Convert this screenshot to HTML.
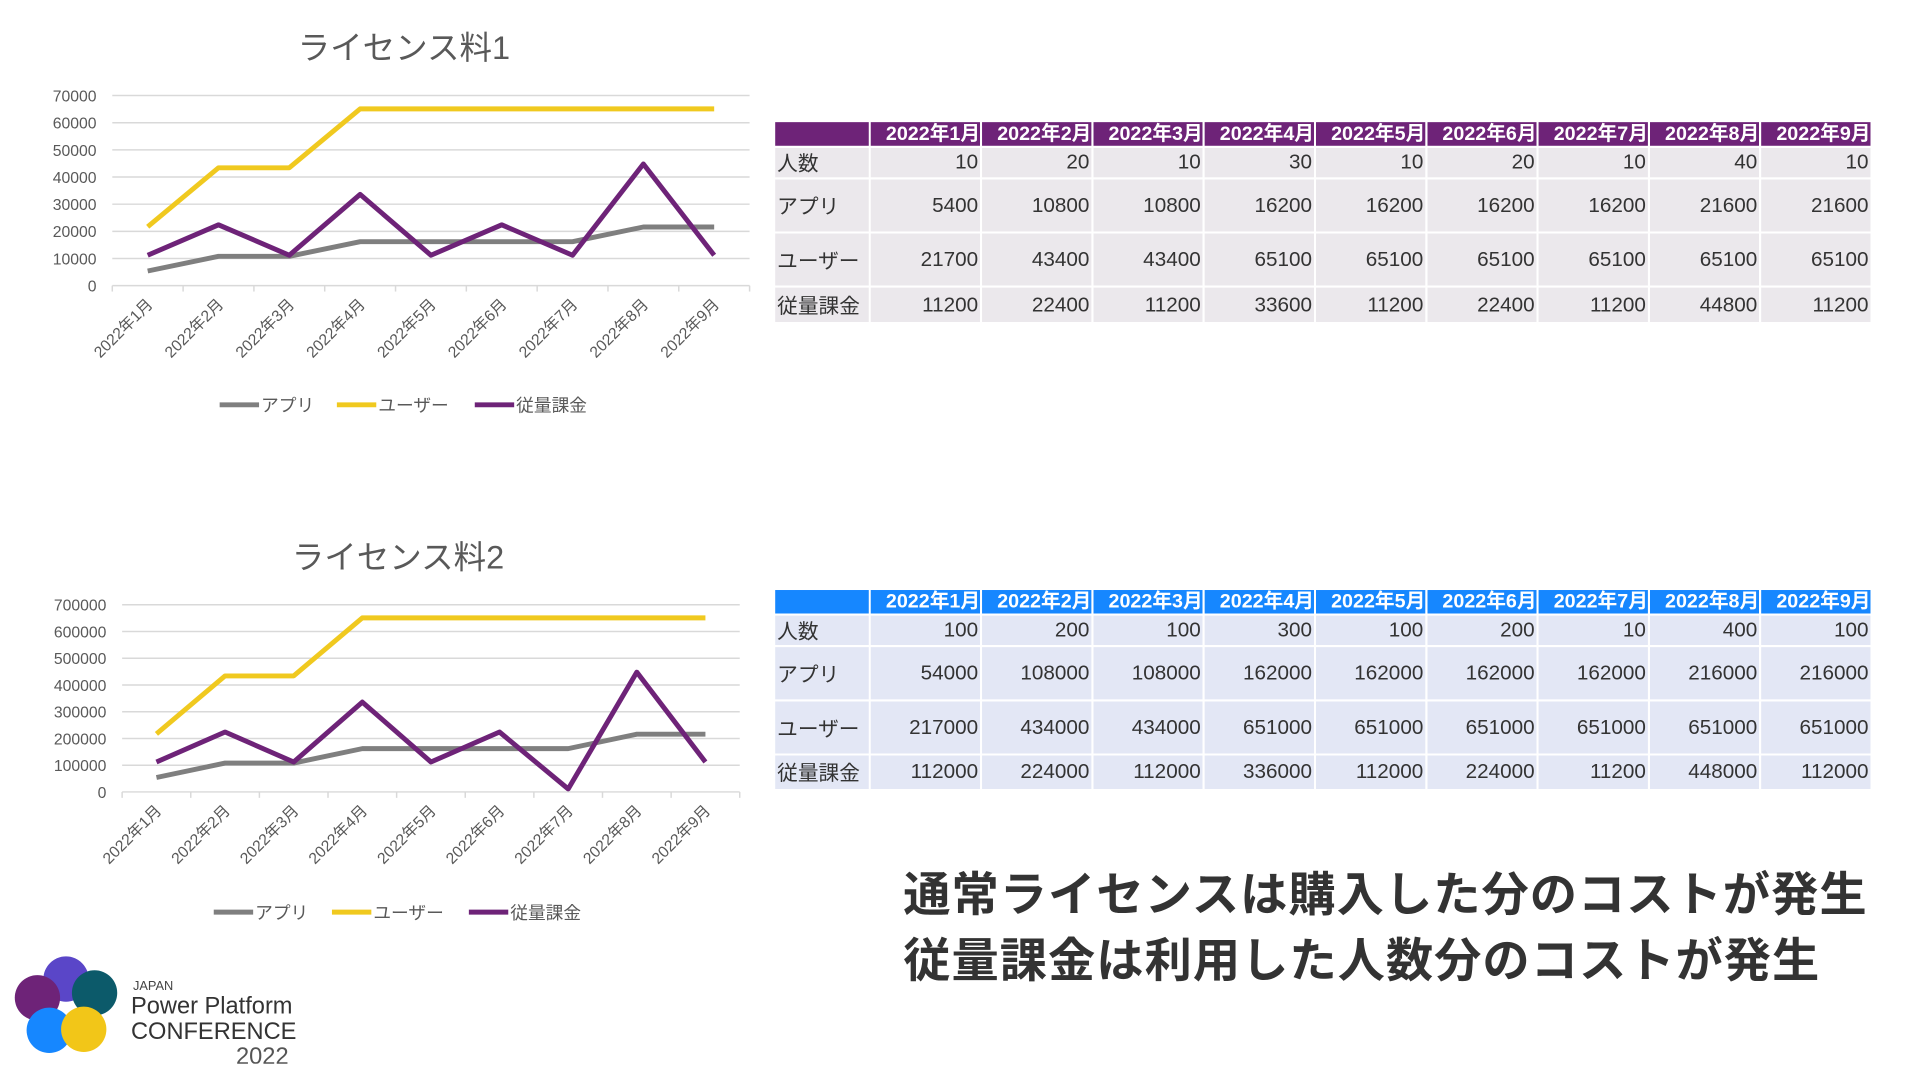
<!DOCTYPE html>
<html><head><meta charset="utf-8">
<style>
body{margin:0;width:1920px;height:1080px;background:#fff;overflow:hidden;position:relative;font-family:"Liberation Sans","Noto Sans CJK JP",sans-serif;}
#wrap{position:absolute;left:0;top:0;width:1920px;height:1080px;transform:scale(0.985);transform-origin:0 0}
svg{position:absolute;left:0;top:0}
table{position:absolute;border-collapse:collapse;font-family:"Liberation Sans","Noto Sans CJK JP",sans-serif;font-size:21px;color:#333;table-layout:fixed}
td,th{border:2px solid #fff;padding:0 2px;text-align:right;white-space:nowrap;overflow:hidden}
th{color:#fff;font-weight:bold;font-size:20px;height:22px;line-height:22px;padding:0}
td.l{text-align:left}
#t1{left:785px;top:122px;width:1116px}
#t1 th{background:#6e2378}
#t1 td{background:#ebe8ec}
#t2{left:785px;top:597px;width:1116px}
#t2 th{background:#1687ff}
#t2 td{background:#e3e7f5}
.msg{position:absolute;left:917px;font-size:48px;font-weight:bold;color:#333;letter-spacing:1px;white-space:nowrap}
</style></head><body>
<div id="wrap">
<svg id="c1" width="1920" height="1080"></svg>

<table id="t1">
<colgroup><col style="width:97px"><col span="9"></colgroup>
<tr style="height:26px"><th></th><th>2022年1月</th><th>2022年2月</th><th>2022年3月</th><th>2022年4月</th><th>2022年5月</th><th>2022年6月</th><th>2022年7月</th><th>2022年8月</th><th>2022年9月</th></tr>
<tr style="height:30px"><td class="l">人数</td><td>10</td><td>20</td><td>10</td><td>30</td><td>10</td><td>20</td><td>10</td><td>40</td><td>10</td></tr>
<tr style="height:55px"><td class="l">アプリ</td><td>5400</td><td>10800</td><td>10800</td><td>16200</td><td>16200</td><td>16200</td><td>16200</td><td>21600</td><td>21600</td></tr>
<tr style="height:55px"><td class="l">ユーザー</td><td>21700</td><td>43400</td><td>43400</td><td>65100</td><td>65100</td><td>65100</td><td>65100</td><td>65100</td><td>65100</td></tr>
<tr style="height:37px"><td class="l">従量課金</td><td>11200</td><td>22400</td><td>11200</td><td>33600</td><td>11200</td><td>22400</td><td>11200</td><td>44800</td><td>11200</td></tr>
</table>

<table id="t2">
<colgroup><col style="width:97px"><col span="9"></colgroup>
<tr style="height:26px"><th></th><th>2022年1月</th><th>2022年2月</th><th>2022年3月</th><th>2022年4月</th><th>2022年5月</th><th>2022年6月</th><th>2022年7月</th><th>2022年8月</th><th>2022年9月</th></tr>
<tr style="height:30px"><td class="l">人数</td><td>100</td><td>200</td><td>100</td><td>300</td><td>100</td><td>200</td><td>10</td><td>400</td><td>100</td></tr>
<tr style="height:55px"><td class="l">アプリ</td><td>54000</td><td>108000</td><td>108000</td><td>162000</td><td>162000</td><td>162000</td><td>162000</td><td>216000</td><td>216000</td></tr>
<tr style="height:55px"><td class="l">ユーザー</td><td>217000</td><td>434000</td><td>434000</td><td>651000</td><td>651000</td><td>651000</td><td>651000</td><td>651000</td><td>651000</td></tr>
<tr style="height:36px"><td class="l">従量課金</td><td>112000</td><td>224000</td><td>112000</td><td>336000</td><td>112000</td><td>224000</td><td>11200</td><td>448000</td><td>112000</td></tr>
</table>

<div class="msg" style="top:869px">通常ライセンスは購入した分のコストが発生</div>
<div class="msg" style="top:936px">従量課金は利用した人数分のコストが発生</div>

<svg width="320" height="140" style="left:0;top:940px">
<circle cx="67" cy="54" r="23" fill="#5a46c8"/>
<circle cx="96" cy="68" r="23" fill="#0c5a6a"/>
<circle cx="38" cy="73" r="23" fill="#6e2378"/>
<circle cx="50" cy="106" r="23" fill="#1687ff"/>
<circle cx="85" cy="105" r="23" fill="#f2c618"/>
<text x="135" y="65" font-size="13" fill="#444" font-family="Liberation Sans, sans-serif">JAPAN</text>
<text x="133" y="89" font-size="24" fill="#333" font-family="Liberation Sans, sans-serif">Power Platform</text>
<text x="133" y="115" font-size="24" fill="#333" font-family="Liberation Sans, sans-serif">CONFERENCE</text>
<text x="293" y="140" font-size="24" fill="#555" text-anchor="end" font-family="Liberation Sans, sans-serif">2022</text>
</svg>
</div>

<script>
const categories=["2022年1月","2022年2月","2022年3月","2022年4月","2022年5月","2022年6月","2022年7月","2022年8月","2022年9月"];
const seriesNames=["アプリ","ユーザー","従量課金"];
const app1=[5400,10800,10800,16200,16200,16200,16200,21600,21600];
const user1=[21700,43400,43400,65100,65100,65100,65100,65100,65100];
const meter1=[11200,22400,11200,33600,11200,22400,11200,44800,11200];
const ticks1=[0,10000,20000,30000,40000,50000,60000,70000];
const app2=[54000,108000,108000,162000,162000,162000,162000,216000,216000];
const user2=[217000,434000,434000,651000,651000,651000,651000,651000,651000];
const meter2=[112000,224000,112000,336000,112000,224000,11200,448000,112000];
const ticks2=[0,100000,200000,300000,400000,500000,600000,700000];
const colors=["#7f7f7f","#f0c91f","#6e2378"];
const NS="http://www.w3.org/2000/svg";
const svg=document.getElementById('c1');
function mk(tag,attrs,parent){const e=document.createElementNS(NS,tag);for(const k in attrs)e.setAttribute(k,attrs[k]);parent.appendChild(e);return e;}
function chart(cfg){
  const g=mk('g',{},svg);
  
  
  const max=cfg.ticks[cfg.ticks.length-1];
  const y=v=>cfg.y0-(v/max)*(cfg.y0-cfg.y1);
  const bw=(cfg.x1-cfg.x0)/categories.length;
  const x=i=>cfg.x0+bw*(i+0.5);
  const t=mk('text',{x:cfg.tx,y:cfg.ty,'font-size':33,fill:'#595959','text-anchor':'middle'},g);t.textContent=cfg.title;
  
  
  cfg.ticks.forEach(v=>{
    mk('line',{x1:cfg.x0,x2:cfg.x1,y1:y(v),y2:y(v),stroke:'#d9d9d9','stroke-width':1.5},g);
    const l=mk('text',{x:cfg.x0-16,y:y(v)+6,'font-size':16,fill:'#595959','text-anchor':'end'},g);l.textContent=v;
    
    
  });
  for(let i=0;i<=categories.length;i++)mk('line',{x1:cfg.x0+bw*i,x2:cfg.x0+bw*i,y1:cfg.y0,y2:cfg.y0+6,stroke:'#d9d9d9','stroke-width':1.5},g);
  categories.forEach((c,i)=>{
    const px=x(i)+6,py=cfg.y0+20;
    const l=mk('text',{x:px,y:py,'font-size':16,fill:'#595959','text-anchor':'end',transform:`rotate(-45 ${px} ${py})`},g);l.textContent=c;
    
    
  });
  cfg.series.forEach((s,si)=>{
    const p=mk('polyline',{points:s.map((v,i)=>x(i)+','+y(v)).join(' '),fill:'none',stroke:colors[si],'stroke-width':5,'stroke-linejoin':'round'},g);
    
    
  });
  cfg.legendX.forEach((lx,si)=>{
    mk('line',{x1:lx,x2:lx+40,y1:cfg.ly,y2:cfg.ly,stroke:colors[si],'stroke-width':5},g);
    const l=mk('text',{x:lx+42,y:cfg.ly+7,'font-size':18,fill:'#595959'},g);l.textContent=seriesNames[si];
    
    
  });
}
chart({name:'chart-1',title:'ライセンス料1',tx:410,ty:60,x0:114,x1:761,y0:290,y1:97,ticks:ticks1,series:[app1,user1,meter1],ly:411,legendX:[223,342,482]});
chart({name:'chart-2',title:'ライセンス料2',tx:404,ty:577,x0:124,x1:751,y0:804,y1:614,ticks:ticks2,series:[app2,user2,meter2],ly:926,legendX:[217,337,476]});
</script>
</body></html>
